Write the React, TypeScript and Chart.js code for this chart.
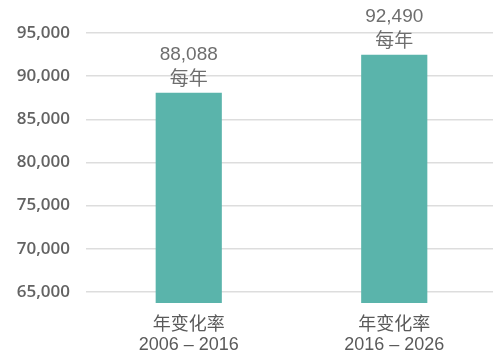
import React, { useEffect, useRef } from "react";
import { Chart, registerables } from "chart.js";

Chart.register(...registerables);

const categories: string[][] = [
  ["年变化率", "2006 – 2016"],
  ["年变化率", "2016 – 2026"],
];
const values: number[] = [88088, 92490];
const valueSuffix = "每年";
const yTicks: number[] = [65000, 70000, 75000, 80000, 85000, 90000, 95000];

const barLabelPlugin = {
  id: "barLabels",
  afterDatasetsDraw(chart: any) {
    const ctx = chart.ctx;
    const meta = chart.getDatasetMeta(0);
    ctx.save();
    ctx.fillStyle = "#6e6e6e";
    ctx.textAlign = "center";
    ctx.textBaseline = "middle";
    ctx.font = '19px "Liberation Sans", Arial, "Noto Sans CJK SC", sans-serif';
    meta.data.forEach((bar: any, i: number) => {
      const v = values[i];
      ctx.fillText(v.toLocaleString("en-US"), bar.x, bar.y - 38);
      ctx.fillText(valueSuffix, bar.x, bar.y - 13);
    });
    ctx.restore();
  },
};

export default function App() {
  const ref = useRef<HTMLCanvasElement>(null);
  useEffect(() => {
    if (!ref.current) return;
    const chart = new Chart(ref.current, {
      type: "bar",
      data: {
        labels: categories,
        datasets: [
          {
            data: values,
            backgroundColor: "#5ab4ab",
            categoryPercentage: 1,
            barPercentage: 0.322,
          },
        ],
      },
      options: {
        animation: false,
        responsive: false,
        layout: { padding: { top: 33, right: 0, bottom: 10, left: 0 } },
        plugins: { legend: { display: false }, tooltip: { enabled: false } },
        scales: {
          x: {
            grid: { display: false, drawTicks: false },
            border: { display: false },
            afterFit: (scale: any) => {
              scale.height = 50;
            },
            ticks: {
              padding: 12,
              color: "#5a5a5a",
              font: {
                family: '"Liberation Sans", Arial, "Noto Sans CJK SC", sans-serif',
                size: 18,
                lineHeight: 1.11,
              },
            },
          },
          y: {
            min: 63720,
            max: 95000,
            afterBuildTicks: (scale: any) => {
              scale.ticks = yTicks.map((v) => ({ value: v }));
            },
            afterFit: (scale: any) => {
              scale.width = 86;
            },
            grid: { color: "#dddddd", lineWidth: 1.5, drawTicks: false },
            border: { display: false },
            ticks: {
              padding: 16,
              color: "#636363",
              font: { family: '"Open Sans", sans-serif', size: 17, weight: 600 },
              callback: (v: any) => Number(v).toLocaleString("en-US"),
            },
          },
        },
      },
      plugins: [barLabelPlugin],
    });
    return () => chart.destroy();
  }, []);
  return (
    <div
      style={{
        position: "fixed",
        left: 0,
        top: 0,
        width: 493,
        height: 363,
        overflow: "hidden",
        background: "#fff",
      }}
    >
      <canvas ref={ref} width={497} height={363} style={{ display: "block" }} />
    </div>
  );
}
